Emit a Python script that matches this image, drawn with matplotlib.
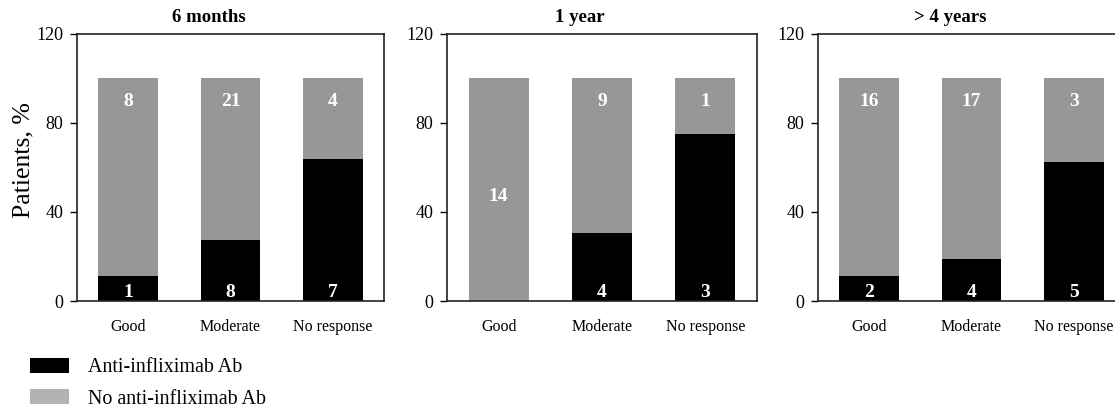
import matplotlib
matplotlib.use("Agg")
import matplotlib.pyplot as plt
from matplotlib.patches import Patch
import numpy as np

plt.rcParams['font.family'] = ['Liberation Serif', 'DejaVu Serif']

panels = ["6 months", "1 year", "> 4 years"]
categories = ["Good", "Moderate", "No response"]
anti_counts = [[1, 8, 7], [0, 4, 3], [2, 4, 5]]
no_anti_counts = [[8, 21, 4], [14, 9, 1], [16, 17, 3]]
series_labels = ["Anti-infliximab Ab", "No anti-infliximab Ab"]
yticks = [0, 40, 80, 120]

BLACK = "#000000"
GRAY = "#979797"
LEG_GRAY = "#b3b3b3"

fig = plt.figure(figsize=(11.15, 4.07), dpi=100)
W, H = 1115, 407
lefts = [77, 447, 818]
widths = [307, 310, 307]
top_px, bot_px = 34, 301

x = np.arange(len(categories))
for i, title in enumerate(panels):
    ax = fig.add_axes([lefts[i] / W, (H - bot_px) / H, widths[i] / W, (bot_px - top_px) / H])
    a = np.array(anti_counts[i], dtype=float)
    n = np.array(no_anti_counts[i], dtype=float)
    tot = a + n
    pa = a / tot * 100
    pn = n / tot * 100
    ax.bar(x, pa, width=0.58, color=BLACK, linewidth=0)
    ax.bar(x, pn, width=0.58, bottom=pa, color=GRAY, linewidth=0)
    for j in range(len(categories)):
        if a[j] > 0:
            ax.text(x[j], 4, f"{int(a[j])}", ha="center", va="center", color="white",
                    fontsize=14, fontweight="bold")
            ax.text(x[j], 89.5, f"{int(n[j])}", ha="center", va="center", color="white",
                    fontsize=14, fontweight="bold")
        else:
            ax.text(x[j], 47, f"{int(n[j])}", ha="center", va="center", color="white",
                    fontsize=14, fontweight="bold")
    ax.set_xlim(-0.5, 2.5)
    ax.set_ylim(0, 120)
    ax.set_yticks(yticks)
    ax.set_xticks(x)
    ax.set_xticklabels(categories, fontsize=11.5)
    ax.tick_params(axis="x", length=0, pad=13)
    ax.tick_params(axis="y", length=5, width=1, pad=5, labelsize=13)
    for s in ax.spines.values():
        s.set_linewidth(1.2)
        s.set_color("#222222")
    ax.text(0.43, 1.062, title, transform=ax.transAxes, ha="center", va="center",
            fontsize=13.5, fontweight="bold")
    if i == 0:
        ax.set_ylabel("Patients, %", fontsize=18.5)
        ax.yaxis.set_label_coords(-0.139, 0.528)

handles = [Patch(facecolor=BLACK, edgecolor="none"), Patch(facecolor=LEG_GRAY, edgecolor="none")]
fig.legend(handles, series_labels, loc="upper left", bbox_to_anchor=(22 / W, (H - 350) / H),
           frameon=False, fontsize=14.4, handlelength=1.95, handleheight=0.75,
           handletextpad=0.95, labelspacing=0.6, borderaxespad=0)

fig.savefig("out.png", dpi=100)
